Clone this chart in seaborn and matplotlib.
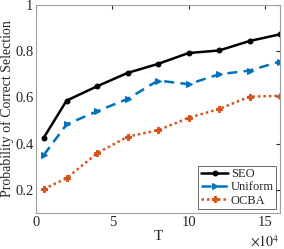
import numpy as np
import pandas as pd
import matplotlib
matplotlib.use("Agg")
import matplotlib.pyplot as plt
import seaborn as sns

T = [0.5, 2, 4, 6, 8, 10, 12, 14, 16]
seo = [0.425, 0.586, 0.648, 0.706, 0.745, 0.792, 0.803, 0.844, 0.873]
uniform = [0.350, 0.483, 0.540, 0.593, 0.673, 0.657, 0.700, 0.716, 0.755]
ocba = [0.203, 0.250, 0.358, 0.430, 0.458, 0.511, 0.550, 0.603, 0.607]

df = pd.DataFrame({"T": T * 3,
                   "P": seo + uniform + ocba,
                   "method": ["SEO"] * 9 + ["Uniform"] * 9 + ["OCBA"] * 9})

sns.set_style("white")
plt.rcParams['font.family'] = ['Liberation Serif', 'DejaVu Serif']
plt.rcParams['mathtext.fontset'] = 'stix'

fig = plt.figure(figsize=(2.84, 2.49), dpi=100)
ax = fig.add_axes([0.127, 0.145, 0.859, 0.835])

styles = {"SEO": ("black", "-", "o", 3.5),
          "Uniform": ("#0072BD", (0, (4, 2.5)), ">", 4.5),
          "OCBA": ("#D95319", (0, (1, 1.2)), "P", 5)}
for m in ["SEO", "Uniform", "OCBA"]:
    c, ls, mk, ms = styles[m]
    sns.lineplot(data=df[df["method"] == m], x="T", y="P", ax=ax, color=c,
                 linestyle=ls, marker=mk, markersize=ms, linewidth=1.8,
                 markeredgecolor=c, label=m)

ax.set_xlim(0, 16)
ax.set_ylim(0.1, 1)
ax.set_xticks([0, 5, 10, 15])
ax.set_yticks([0.2, 0.4, 0.6, 0.8, 1])
ax.set_yticklabels(["0.2", "0.4", "0.6", "0.8", "1"])
ax.tick_params(direction="in", length=3, labelsize=10.5, colors="#262626",
               top=True, right=True, pad=2)
for s in ax.spines.values():
    s.set_color("#a0a0a0")
    s.set_linewidth(0.8)
ax.set_xlabel("T", fontsize=11, labelpad=1)
ax.set_ylabel("Probability of Correct Selection", fontsize=10, labelpad=1)
ax.text(1.0, -0.1, r"$\times10^4$", transform=ax.transAxes, ha="right",
        va="top", fontsize=10)

leg = ax.legend(loc="lower right", fontsize=9, frameon=True, fancybox=False,
                handlelength=2.2, handletextpad=0.2, borderpad=0.2,
                labelspacing=0.1, borderaxespad=0.3)
leg.get_frame().set_edgecolor("#262626")
leg.get_frame().set_linewidth(0.6)

fig.savefig("out.png", dpi=100)
